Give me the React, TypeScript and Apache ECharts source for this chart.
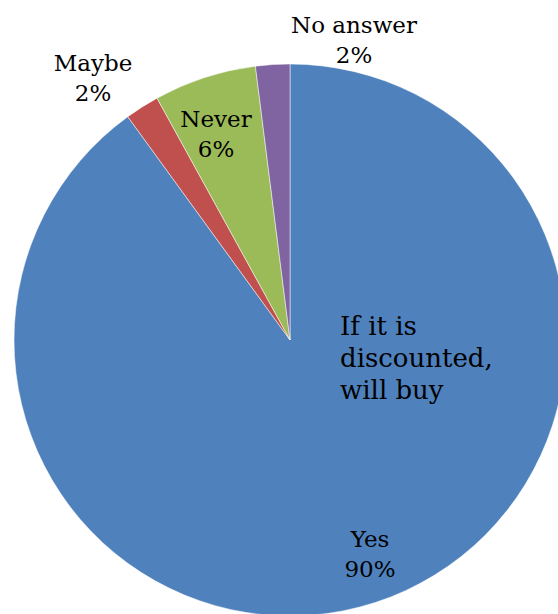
import React, { useEffect, useRef } from "react";
import * as echarts from "echarts";

// Survey answers, in clockwise order from 12 o'clock
const answers = ["Yes", "Maybe", "Never", "No answer"];
const shares = [90, 2, 6, 2];
const sliceColors = ["#4F81BD", "#C0504D", "#9BBB59", "#8064A2"];
const noteText = "If it is\ndiscounted,\nwill buy";

// Where each slice's label sits on the canvas
const labelSpots: Record<string, [number, number]> = {
  Yes: [370, 554],
  Maybe: [93, 78],
  Never: [216, 134],
  "No answer": [354, 40],
};

const FONT = "'DejaVu Serif', serif";

export default function App() {
  const ref = useRef<HTMLDivElement>(null);

  useEffect(() => {
    if (!ref.current) return;
    const chart = echarts.init(ref.current, null, { renderer: "svg" });
    chart.setOption({
      animation: false,
      backgroundColor: "#ffffff",
      series: [
        {
          type: "pie",
          center: [290, 340],
          radius: 276,
          startAngle: 90,
          clockwise: true,
          avoidLabelOverlap: false,
          data: answers.map((name, i) => ({
            name,
            value: shares[i],
            itemStyle: { color: sliceColors[i] },
          })),
          itemStyle: { borderColor: "#ffffff", borderWidth: 0.5 },
          label: {
            show: true,
            formatter: "{b}\n{d}%",
            fontFamily: FONT,
            fontSize: 23,
            lineHeight: 30,
            color: "#000000",
            align: "center",
          },
          labelLine: { show: false },
          labelLayout: (params: any) => {
            const spot = labelSpots[answers[params.dataIndex]];
            return {
              x: spot[0],
              y: spot[1],
              align: "center",
              verticalAlign: "middle",
            };
          },
          emphasis: { disabled: true },
        },
      ],
      graphic: [
        {
          type: "text",
          left: 340,
          top: 310,
          z: 100,
          style: {
            text: noteText,
            fontFamily: FONT,
            fontSize: 26,
            lineHeight: 32,
            fill: "#000000",
          },
        },
      ],
    });
    return () => chart.dispose();
  }, []);

  return (
    <div
      ref={ref}
      style={{ position: "fixed", left: 0, top: 0, width: 558, height: 614 }}
    />
  );
}
